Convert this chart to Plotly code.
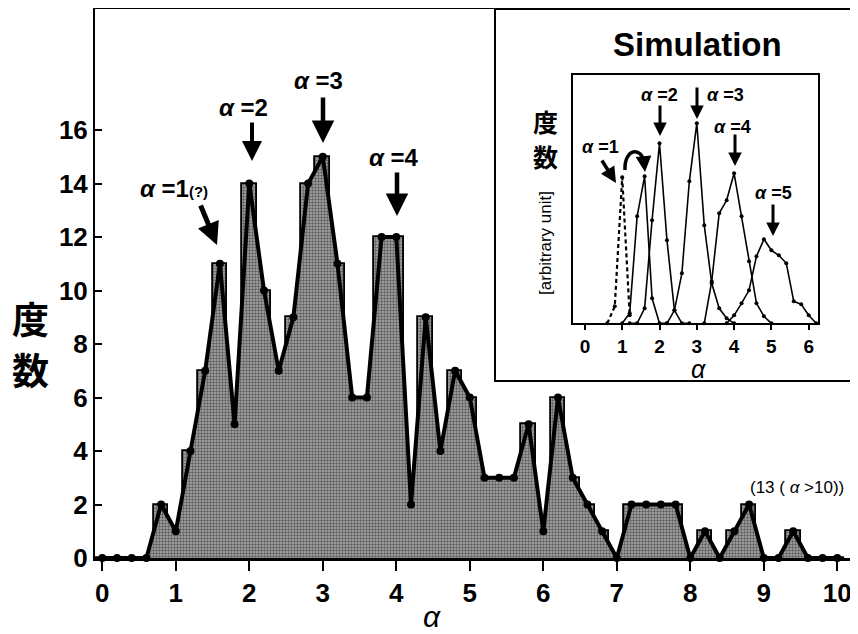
import plotly.graph_objects as go

# ---------------- data ----------------
alpha_bins = [round(i * 0.2, 1) for i in range(51)]
counts = [0, 0, 0, 0, 2, 1, 4, 7, 11, 5,
          14, 10, 7, 9, 14, 15, 11, 6, 6, 12,
          12, 2, 9, 4, 7, 6, 3, 3, 3, 5,
          1, 6, 3, 2, 1, 0, 2, 2, 2, 2,
          0, 1, 0, 1, 2, 0, 0, 1, 0, 0, 0]

y_ticks = [0, 2, 4, 6, 8, 10, 12, 14, 16]
x_ticks = list(range(11))
inset_x_ticks = list(range(7))

# simulation (inset) curves, arbitrary units
sim_a1_x = [0.6, 0.8, 1.0, 1.2]
sim_a1_y = [0, 17, 146, 8]
sim_a16_x = [1.0, 1.2, 1.4, 1.6, 1.8, 2.0, 2.2]
sim_a16_y = [0, 10, 107, 147, 25, 0, 0]
sim_a2_x = [1.2, 1.4, 1.6, 1.8, 2.0, 2.2, 2.4, 2.6, 2.8]
sim_a2_y = [0, 0, 15, 103, 180, 83, 13, 0, 0]
sim_a3_x = [2.2, 2.4, 2.6, 2.8, 3.0, 3.2, 3.4, 3.6, 3.8, 4.0]
sim_a3_y = [0, 13, 50, 142, 200, 98, 40, 15, 5, 0]
sim_a4_x = [3.2, 3.4, 3.6, 3.8, 4.0, 4.2, 4.4, 4.6, 4.8, 5.0]
sim_a4_y = [0, 42, 110, 123, 150, 107, 62, 20, 7, 0]
sim_a5_x = [3.8, 4.0, 4.2, 4.4, 4.6, 4.8, 5.0, 5.2, 5.4, 5.6, 5.8, 6.0, 6.2]
sim_a5_y = [0, 8, 20, 33, 67, 84, 73, 68, 60, 22, 19, 8, 0]

# ---------------- geometry helpers ----------------
# the page body has an 8px margin, so the figure is drawn 8px in from the window corner
OFF = 8
W, H = 858 - OFF, 634 - OFF
PL, PR, PT, PB = 95, 855, 9, 558          # plot area in window pixels
X0PX, XPU = 102.3, 73.5
YPU = 26.75


def X(px):
    return (px - X0PX) / XPU


def Y(py):
    return (PB - py) / YPU


def PXp(px):
    return (px - PL) / (PR - PL)


def PYp(py):
    return (PB - py) / (PB - PT)


FONT = "Liberation Sans, Arial, sans-serif"
CJK = "Noto Sans CJK JP, Noto Sans CJK SC, sans-serif"

stipple = dict(shape=".", fgcolor="#111111", bgcolor="#a9a9a9", size=3, solidity=0.5)

fig = go.Figure()

# area under the polygon line
fig.add_trace(go.Scatter(x=alpha_bins, y=counts, mode="none", fill="tozeroy",
                         fillcolor="#9a9a9a", fillpattern=stipple, showlegend=False,
                         hoverinfo="skip"))
# histogram bars
fig.add_trace(go.Bar(x=alpha_bins, y=counts, width=0.2,
                     marker=dict(color="#a0a0a0", pattern=stipple,
                                 line=dict(color="black", width=1.8)),
                     showlegend=False))
# frequency polygon
fig.add_trace(go.Scatter(x=alpha_bins, y=counts, mode="lines+markers",
                         line=dict(color="black", width=4),
                         marker=dict(color="black", size=8),
                         cliponaxis=False, showlegend=False))

# inset curves
for xs, ys, dash in [(sim_a1_x, sim_a1_y, "4px,3px"), (sim_a16_x, sim_a16_y, "solid"),
                     (sim_a2_x, sim_a2_y, "solid"), (sim_a3_x, sim_a3_y, "solid"),
                     (sim_a4_x, sim_a4_y, "solid"), (sim_a5_x, sim_a5_y, "solid")]:
    fig.add_trace(go.Scatter(x=xs, y=ys, xaxis="x2", yaxis="y2",
                             mode="lines+markers",
                             line=dict(color="black", width=2.2 if dash != "solid" else 1.6, dash=dash),
                             marker=dict(color="black", size=4),
                             cliponaxis=False, showlegend=False))

fig.update_layout(
    width=W, height=H,
    margin=dict(l=PL - OFF, r=(W + OFF) - PR, t=PT - OFF, b=(H + OFF) - PB, autoexpand=False),
    paper_bgcolor="white", plot_bgcolor="white",
    bargap=0,
    font=dict(family=FONT, color="black"),
    xaxis=dict(range=[X(PL), X(PR)], tickvals=x_ticks, ticks="outside", ticklen=10,
               tickwidth=2, tickcolor="black", showgrid=False, zeroline=False,
               showline=True, linecolor="black", linewidth=2.5, mirror=True,
               tickfont=dict(size=26, family=FONT, weight="bold")),
    yaxis=dict(range=[0, Y(PT)], tickvals=y_ticks, ticks="inside", ticklen=7,
               tickwidth=1.5, tickcolor="black", showgrid=False, zeroline=False,
               showline=True, linecolor="black", linewidth=2, mirror=True,
               tickfont=dict(size=26, family=FONT, weight="bold")),
    xaxis2=dict(domain=[PXp(573), PXp(818)], anchor="y2", range=[-0.32, 6.25],
                tickvals=inset_x_ticks, ticks="outside", ticklen=5, tickwidth=1.5,
                tickcolor="black", showgrid=False, zeroline=False, showline=True,
                linecolor="black", linewidth=1.5, mirror=True,
                tickfont=dict(size=19, family=FONT, weight="bold")),
    yaxis2=dict(domain=[PYp(323.3), PYp(75)], anchor="x2", range=[0, 248.3],
                showticklabels=False, ticks="", showgrid=False, zeroline=False,
                showline=True, linecolor="black", linewidth=1.5, mirror=True),
)

shapes = []
# inset outer frame
shapes.append(dict(type="rect", xref="paper", yref="paper",
                   x0=PXp(495), x1=PXp(855), y0=PYp(381), y1=PYp(PT),
                   line=dict(color="black", width=2), fillcolor="rgba(0,0,0,0)",
                   layer="above"))
# curved arrow in inset
shapes.append(dict(type="path", xref="paper", yref="paper",
                   path=f"M {PXp(625)} {PYp(170)} C {PXp(624)} {PYp(148)}, {PXp(642)} {PYp(146)}, {PXp(644)} {PYp(163)}",
                   line=dict(color="black", width=3.5)))
fig.update_layout(shapes=shapes)

ann = []


def text_px(px, py, txt, size, bold=True, family=FONT, **kw):
    ann.append(dict(xref="paper", yref="paper", x=PXp(px), y=PYp(py), text=txt,
                    showarrow=False, xanchor="center", yanchor="middle",
                    font=dict(size=size, family=family, color="black",
                              weight="bold" if bold else "normal"), **kw))


def arrow_px(x0, y0, x1, y1, width=4, size=1.0):
    ann.append(dict(xref="paper", yref="paper", x=PXp(x1), y=PYp(y1),
                    ax=x0 - x1, ay=y0 - y1, axref="pixel", ayref="pixel",
                    text="", showarrow=True, arrowhead=2, arrowsize=size,
                    arrowwidth=width, arrowcolor="black"))


# main annotations
text_px(174, 188, "<i>α</i> =1<span style='font-size:15px'>(?)</span>", 24)
arrow_px(200, 204, 217, 245, width=5, size=0.9)
text_px(243, 108, "<i>α</i> =2", 24)
arrow_px(252, 121, 252, 161, width=4, size=1.0)
text_px(318, 80, "<i>α</i> =3", 24)
arrow_px(323, 96, 323, 143, width=4.5, size=1.0)
text_px(394, 157, "<i>α</i> =4", 24)
arrow_px(397, 171, 397, 216, width=4.5, size=1.0)
text_px(797, 487, "(13 ( <i>α</i> >10))", 17, bold=False)

# axis titles
text_px(30, 318, "度", 37, family=CJK)
text_px(30, 369, "数", 37, family=CJK)
text_px(432, 616, "<i>α</i>", 30, bold=False)

# inset texts
text_px(697, 45, "Simulation", 33)
text_px(545, 121, "度", 25, family=CJK)
text_px(545, 156, "数", 25, family=CJK)
ann.append(dict(xref="paper", yref="paper", x=PXp(545), y=PYp(243),
                text="[arbitrary unit]", showarrow=False, textangle=-90,
                xanchor="center", yanchor="middle",
                font=dict(size=17, family=FONT, color="black")))
text_px(698, 369, "<i>α</i>", 25, bold=False)

text_px(600, 147, "<i>α</i> =1", 18)
arrow_px(601, 159, 616, 183, width=3.5, size=0.9)
arrow_px(644, 162, 645, 172, width=3.5, size=0.9)
text_px(659, 95, "<i>α</i> =2", 18)
arrow_px(660, 104, 660, 136, width=3, size=0.9)
text_px(725, 95, "<i>α</i> =3", 18)
arrow_px(697, 86, 697, 119, width=3, size=0.9)
text_px(732, 127, "<i>α</i> =4", 18)
arrow_px(735, 133, 735, 166, width=3, size=0.9)
text_px(773, 193, "<i>α</i> =5", 18)
arrow_px(773, 203, 773, 236, width=3, size=0.9)

fig.update_layout(annotations=ann)

fig.write_html("out.html")
